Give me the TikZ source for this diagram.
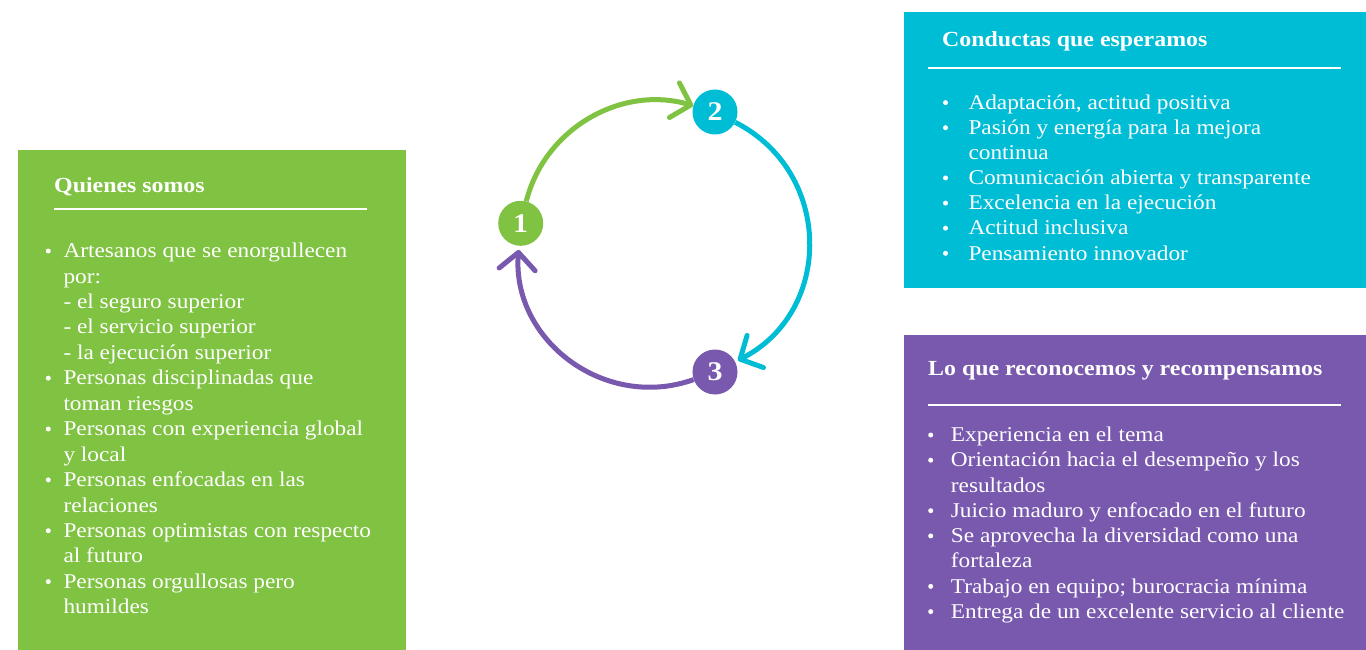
\documentclass[tikz,border=0pt]{standalone}
\usepackage{fontspec}
\setmainfont{Liberation Serif}[FakeStretch=1.11]
\usetikzlibrary{arrows.meta}
\definecolor{cgreen}{HTML}{80C242}
\definecolor{ccyan}{HTML}{00BDD6}
\definecolor{cpurple}{HTML}{7859AE}
\begin{document}
\begin{tikzpicture}[x=1pt,y=1pt,
  panel/.style={inner sep=0pt, outer sep=0pt, anchor=north west},
  ltxt/.style={anchor=base west, inner sep=0pt, text=white, font=\fontsize{21}{25}\selectfont},
  head/.style={anchor=base west, inner sep=0pt, text=white, font=\bfseries\fontsize{21.5}{25}\selectfont},
  bul/.style={circle, fill=white, inner sep=0pt, minimum size=5pt},
  hrule/.style={white, line width=2pt},
  num/.style={circle, minimum size=45pt, inner sep=0pt, text=white, font=\bfseries\fontsize{27}{27}\selectfont},
  cyc/.style={line width=5pt, -{Straight Barb[length=17pt,width=36pt,round]}}
]
\useasboundingbox (0,0) rectangle (1366,-650);
\fill[white] (0,0) rectangle (1366,-650);

% panels
\node[panel, fill=cgreen, minimum width=388pt, minimum height=500pt] (gbox) at (18,-150) {};
\node[panel, fill=ccyan, minimum width=462pt, minimum height=276pt] (cbox) at (904,-12) {};
\node[panel, fill=cpurple, minimum width=462pt, minimum height=315pt] (pbox) at (904,-335) {};

% headers
\node[head] (gh) at (54,-192.7) {Quienes somos};
\node[head] (ch) at (942,-47) {Conductas que esperamos};
\node[head] (ph) at (928,-375) {Lo que reconocemos y recompensamos};
\coordinate (gr1) at (54,-209); \coordinate (gr2) at (367,-209);
\coordinate (cr1) at (928,-68); \coordinate (cr2) at (1341,-68);
\coordinate (pr1) at (928,-405); \coordinate (pr2) at (1341,-405);
\draw[hrule] (gr1) -- (gr2);
\draw[hrule] (cr1) -- (cr2);
\draw[hrule] (pr1) -- (pr2);

% green list
\foreach \t [count=\i from 0] in {{Artesanos que se enorgullecen},{por:},{- el seguro superior},{- el servicio superior},{- la ejecución superior},{Personas disciplinadas que},{toman riesgos},{Personas con experiencia global},{y local},{Personas enfocadas en las},{relaciones},{Personas optimistas con respecto},{al futuro},{Personas orgullosas pero},{humildes}}
  \node[ltxt] (g\i) at (63.3,{-257.7-25.43*\i}) {\t};
\foreach \i in {0,5,7,9,11,13}
  \node[bul] (gb\i) at (48.3,{-251-25.43*\i}) {};

% cyan list
\foreach \t [count=\i from 0] in {{Adaptación, actitud positiva},{Pasión y energía para la mejora},{continua},{Comunicación abierta y transparente},{Excelencia en la ejecución},{Actitud inclusiva},{Pensamiento innovador}}
  \node[ltxt] (c\i) at (968.3,{-109.3-25.12*\i}) {\t};
\foreach \i in {0,1,3,4,5,6}
  \node[bul] (cb\i) at (945.5,{-102.6-25.12*\i}) {};

% purple list
\foreach \t [count=\i from 0] in {{Experiencia en el tema},{Orientación hacia el desempeño y los},{resultados},{Juicio maduro y enfocado en el futuro},{Se aprovecha la diversidad como una},{fortaleza},{Trabajo en equipo; burocracia mínima},{Entrega de un excelente servicio al cliente}}
  \node[ltxt] (p\i) at (950.7,{-441.7-25.23*\i}) {\t};
\foreach \i in {0,1,3,4,6,7}
  \node[bul] (pb\i) at (930.7,{-435-25.23*\i}) {};

% cycle
\node[num, fill=cgreen] (n1) at (520.7,-223.3) {1};
\node[num, fill=ccyan] (n2) at (715,-112) {2};
\node[num, fill=cpurple] (n3) at (715,-372) {3};
\draw[cyc, cgreen] (n1) to[bend left=46, looseness=1.0] (n2);
\draw[cyc, ccyan, shorten >=3pt] (n2) to[bend left=63, looseness=1.18] (n3);
\draw[cyc, cpurple, shorten >=4pt] (n3) to[bend left=57, looseness=1.1] (n1);
\end{tikzpicture}
\end{document}
